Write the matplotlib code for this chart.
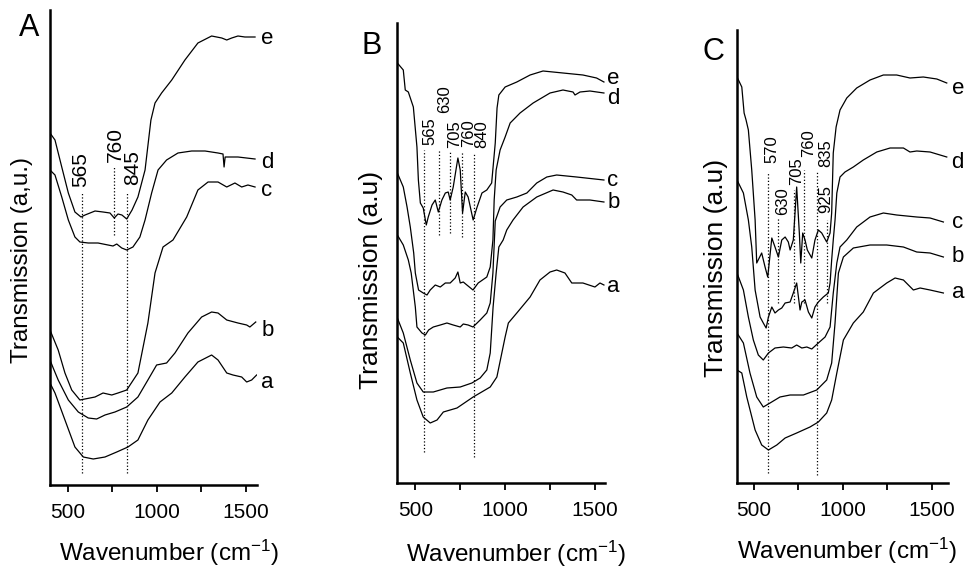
import matplotlib
matplotlib.use("Agg")
import matplotlib.pyplot as plt

plt.rcParams['font.family'] = ['Liberation Sans', 'DejaVu Sans']
plt.rcParams['mathtext.default'] = 'regular'

# ---- panel A : wavenumber (cm-1) / transmission (a.u.) ----
A_e_x = [399, 427, 465, 502, 539, 573, 596, 652, 697, 736, 760, 781, 803, 830, 860, 893, 933, 966, 989, 1026, 1083, 1157, 1230, 1307, 1364, 1392, 1420, 1455, 1494, 1551]
A_e_y = [352, 345, 318, 292, 273, 268, 270, 274, 273, 272, 267, 271, 270, 266, 275, 288, 315, 365, 382, 392, 405, 425, 442, 449, 447, 445, 447, 449, 448, 448]
A_d_x = [399, 427, 465, 502, 539, 567, 614, 669, 725, 753, 774, 802, 830, 865, 904, 933, 970, 1006, 1054, 1118, 1195, 1270, 1343, 1371, 1377, 1383, 1392, 1455, 1551]
A_d_y = [315, 310, 288, 265, 248, 243, 242, 242, 240, 239, 241, 237, 235, 238, 248, 265, 292, 315, 325, 332, 334, 334, 332, 331, 318, 328, 328, 328, 326]
A_c_x = [399, 445, 483, 521, 567, 652, 697, 746, 781, 830, 893, 949, 989, 1034, 1090, 1167, 1230, 1287, 1343, 1392, 1438, 1476, 1511, 1551]
A_c_y = [155, 135, 112, 95, 85, 88, 92, 90, 92, 95, 112, 162, 212, 238, 245, 268, 295, 303, 303, 298, 302, 298, 300, 298]
A_b_x = [399, 417, 445, 502, 558, 614, 661, 708, 764, 830, 893, 949, 998, 1054, 1101, 1174, 1251, 1307, 1343, 1392, 1455, 1504, 1522, 1555]
A_b_y = [125, 117, 105, 85, 73, 67, 66, 70, 73, 78, 88, 105, 120, 122, 132, 152, 168, 173, 172, 165, 162, 160, 158, 163]
A_a_x = [399, 427, 483, 539, 586, 642, 708, 774, 837, 893, 949, 1017, 1083, 1157, 1230, 1307, 1343, 1392, 1427, 1476, 1504, 1532, 1560]
A_a_y = [102, 92, 65, 38, 28, 26, 28, 33, 38, 45, 65, 83, 92, 108, 123, 130, 125, 112, 110, 108, 103, 105, 110]

# ---- panel B ----
B_e_x = [400, 433, 444, 461, 489, 509, 517, 528, 544, 561, 572, 593, 611, 628, 648, 667, 683, 694, 711, 737, 750, 763, 778, 794, 822, 844, 871, 898, 925, 945, 955, 965, 1000, 1065, 1139, 1211, 1322, 1433, 1509, 1550]
B_e_y = [420, 413, 393, 391, 376, 336, 303, 280, 275, 258, 266, 278, 283, 271, 283, 290, 291, 283, 296, 325, 313, 270, 291, 286, 263, 276, 290, 293, 300, 340, 375, 388, 396, 401, 408, 412, 410, 408, 405, 401]
B_d_x = [400, 433, 454, 472, 491, 500, 518, 544, 565, 583, 611, 639, 667, 694, 722, 737, 750, 767, 787, 821, 850, 898, 917, 932, 939, 950, 972, 1000, 1028, 1083, 1156, 1250, 1322, 1378, 1389, 1417, 1472, 1550]
B_d_y = [310, 296, 276, 256, 230, 210, 193, 190, 188, 193, 198, 196, 200, 200, 205, 211, 200, 201, 198, 193, 200, 206, 216, 243, 283, 313, 333, 346, 360, 370, 380, 390, 393, 391, 388, 391, 392, 390]
B_c_x = [400, 433, 461, 477, 500, 509, 537, 556, 574, 600, 639, 676, 711, 750, 767, 794, 821, 861, 898, 917, 932, 945, 972, 1009, 1065, 1121, 1176, 1232, 1287, 1398, 1550]
B_c_y = [248, 238, 223, 210, 176, 156, 150, 148, 153, 156, 158, 160, 158, 156, 159, 158, 156, 163, 170, 180, 210, 262, 276, 283, 286, 290, 300, 306, 308, 306, 303]
B_b_x = [400, 433, 472, 509, 544, 600, 676, 750, 815, 861, 898, 917, 933, 950, 965, 989, 1009, 1044, 1100, 1176, 1267, 1322, 1371, 1398, 1472, 1550]
B_b_y = [165, 150, 123, 100, 91, 91, 95, 96, 100, 105, 113, 130, 176, 210, 236, 243, 253, 263, 276, 286, 293, 291, 288, 283, 283, 281]
B_a_x = [400, 433, 472, 509, 544, 583, 621, 656, 732, 822, 917, 954, 1000, 1018, 1065, 1139, 1194, 1250, 1287, 1333, 1371, 1433, 1500, 1528, 1550]
B_a_y = [146, 140, 110, 83, 66, 60, 63, 71, 75, 86, 96, 106, 146, 160, 170, 186, 203, 211, 213, 210, 200, 200, 196, 200, 198]

# ---- panel C ----
C_e_x = [404, 431, 444, 455, 468, 487, 506, 515, 543, 562, 577, 600, 618, 637, 656, 675, 693, 703, 721, 740, 755, 763, 774, 787, 800, 825, 843, 862, 881, 909, 928, 937, 946, 962, 984, 1022, 1078, 1153, 1228, 1303, 1378, 1453, 1529, 1585]
C_e_y = [406, 396, 370, 363, 353, 313, 263, 220, 230, 216, 206, 245, 236, 226, 243, 246, 241, 233, 243, 296, 250, 220, 250, 243, 233, 225, 243, 253, 250, 241, 250, 270, 330, 356, 373, 385, 395, 403, 408, 408, 405, 406, 404, 400]
C_d_x = [404, 440, 468, 487, 506, 534, 552, 568, 581, 600, 618, 637, 656, 675, 703, 721, 740, 759, 769, 787, 806, 825, 843, 862, 890, 918, 928, 937, 946, 956, 966, 984, 1012, 1059, 1115, 1191, 1266, 1341, 1378, 1416, 1491, 1585]
C_d_y = [303, 290, 263, 236, 193, 166, 160, 155, 166, 176, 170, 173, 175, 180, 181, 190, 200, 173, 181, 183, 171, 165, 176, 181, 186, 190, 200, 223, 243, 263, 290, 306, 311, 316, 323, 331, 335, 335, 331, 332, 331, 326]
C_c_x = [404, 440, 468, 496, 524, 552, 581, 618, 665, 712, 740, 769, 797, 825, 862, 900, 928, 946, 966, 984, 1022, 1078, 1153, 1228, 1303, 1416, 1491, 1566]
C_c_y = [210, 193, 166, 143, 128, 123, 130, 135, 136, 135, 138, 135, 136, 134, 140, 146, 156, 190, 220, 236, 243, 256, 266, 270, 268, 266, 265, 261]
C_b_x = [404, 440, 477, 515, 552, 590, 646, 703, 778, 853, 909, 937, 956, 975, 1003, 1059, 1153, 1247, 1341, 1416, 1491, 1566]
C_b_y = [150, 140, 110, 86, 76, 80, 86, 88, 88, 93, 103, 120, 160, 210, 226, 235, 238, 238, 236, 231, 230, 226]
C_a_x = [404, 431, 459, 506, 543, 581, 628, 675, 740, 815, 862, 909, 937, 966, 1003, 1059, 1115, 1172, 1247, 1294, 1341, 1397, 1435, 1491, 1566]
C_a_y = [113, 110, 86, 53, 38, 33, 38, 45, 50, 56, 61, 70, 83, 110, 143, 160, 171, 190, 200, 205, 203, 193, 195, 193, 190]

curve_names = ['a', 'b', 'c', 'd', 'e']

# marker lines: position, y from, y to ; label text, label x, label bottom y
A_marks = [577, 760, 830]
A_mark_lo = [12, 250, 12]
A_mark_hi = [293, 318, 292]
A_mark_txt = ['565', '760', '845']
A_mark_tx = [573, 764, 865]
A_mark_ty = [298, 323, 300]

B_marks = [546, 630, 694, 759, 824]
B_mark_lo = [31, 248, 250, 246, 26]
B_mark_hi = [333, 333, 331, 331, 330]
B_mark_txt = ['565', '630', '705', '760', '840']
B_mark_tx = [581, 664, 719, 794, 869]
B_mark_ty = [338, 370, 335, 336, 335]

C_marks = [577, 637, 727, 781, 856, 913]
C_mark_lo = [10, 180, 180, 180, 8, 180]
C_mark_hi = [311, 266, 293, 313, 311, 263]
C_mark_txt = ['570', '630', '705', '760', '835', '925']
C_mark_tx = [600, 662, 740, 806, 905, 905]
C_mark_ty = [320, 268, 298, 326, 316, 270]

W, H = 965, 568
fig = plt.figure(figsize=(W / 100, H / 100), dpi=100)


def px_axes(left, top, right, bottom):
    return fig.add_axes([left / W, 1 - bottom / H, (right - left) / W, (bottom - top) / H])


panels = [
    dict(box=(50, 10, 257, 485), xlim=(399, 1562), ylim=(0, 475),
         curves=[(A_a_x, A_a_y), (A_b_x, A_b_y), (A_c_x, A_c_y), (A_d_x, A_d_y), (A_e_x, A_e_y)],
         lab_x=1585, lab_y=[103, 155, 295, 322, 447],
         marks=(A_marks, A_mark_lo, A_mark_hi, A_mark_txt, A_mark_tx, A_mark_ty), mfs=15,
         letter='A', letter_pos=(19, 28), ylab='Transmission (a,u.)', ylab_pos=(22, 260), yfs=17.5,
         xlab_pos=(169, 553)),
    dict(box=(397, 23, 605, 483), xlim=(398, 1556), ylim=(0, 460),
         curves=[(B_a_x, B_a_y), (B_b_x, B_b_y), (B_c_x, B_c_y), (B_d_x, B_d_y), (B_e_x, B_e_y)],
         lab_x=1568, lab_y=[196, 281, 303, 385, 405],
         marks=(B_marks, B_mark_lo, B_mark_hi, B_mark_txt, B_mark_tx, B_mark_ty), mfs=12,
         letter='B', letter_pos=(361, 46), ylab='Transmission (a.u)', ylab_pos=(371, 280), yfs=19,
         xlab_pos=(516, 554)),
    dict(box=(737, 30, 948, 483), xlim=(404, 1592), ylim=(0, 453),
         curves=[(C_a_x, C_a_y), (C_b_x, C_b_y), (C_c_x, C_c_y), (C_d_x, C_d_y), (C_e_x, C_e_y)],
         lab_x=1612, lab_y=[190, 226, 261, 321, 395],
         marks=(C_marks, C_mark_lo, C_mark_hi, C_mark_txt, C_mark_tx, C_mark_ty), mfs=12,
         letter='C', letter_pos=(702, 52), ylab='Transmission (a.u)', ylab_pos=(716, 268), yfs=19,
         xlab_pos=(847, 551)),
]

for p in panels:
    ax = px_axes(*p['box'])
    for (xs, ys) in p['curves']:
        ax.plot(xs, ys, color='black', linewidth=0.9)
    for name, ly in zip(curve_names, p['lab_y']):
        ax.text(p['lab_x'], ly, name, fontsize=16, ha='left', va='center', clip_on=False)
    pos, lo, hi, txt, tx, ty = p['marks']
    for x0, y0, y1, t, lx, lyb in zip(pos, lo, hi, txt, tx, ty):
        ax.plot([x0, x0], [y0, y1], color='black', linestyle=':', linewidth=0.9)
        ax.text(lx, lyb, t, rotation=90, fontsize=p['mfs'], ha='center', va='bottom')
    ax.set_xlim(*p['xlim'])
    ax.set_ylim(*p['ylim'])
    ax.set_xticks([500, 1000, 1500])
    ax.set_xticks([750, 1250], minor=True)
    ax.set_yticks([])
    ax.tick_params(axis='x', which='both', direction='out', length=5, width=1.3, labelsize=15, pad=8)
    ax.spines['top'].set_visible(False)
    ax.spines['right'].set_visible(False)
    ax.spines['left'].set_linewidth(1.8)
    ax.spines['bottom'].set_linewidth(1.8)
    ax.set_facecolor('none')

    lx, ly = p['letter_pos']
    fig.text(lx / W, 1 - ly / H, p['letter'], fontsize=22, ha='left', va='center')
    yx, yy = p['ylab_pos']
    fig.text(yx / W, 1 - yy / H, p['ylab'], fontsize=p['yfs'], rotation=90, ha='center', va='center')
    xx, xy = p['xlab_pos']
    fig.text(xx / W, 1 - xy / H, 'Wavenumber (cm$^{-1}$)', fontsize=17.5, ha='center', va='center')

fig.savefig('out.png', dpi=100, facecolor='white')
